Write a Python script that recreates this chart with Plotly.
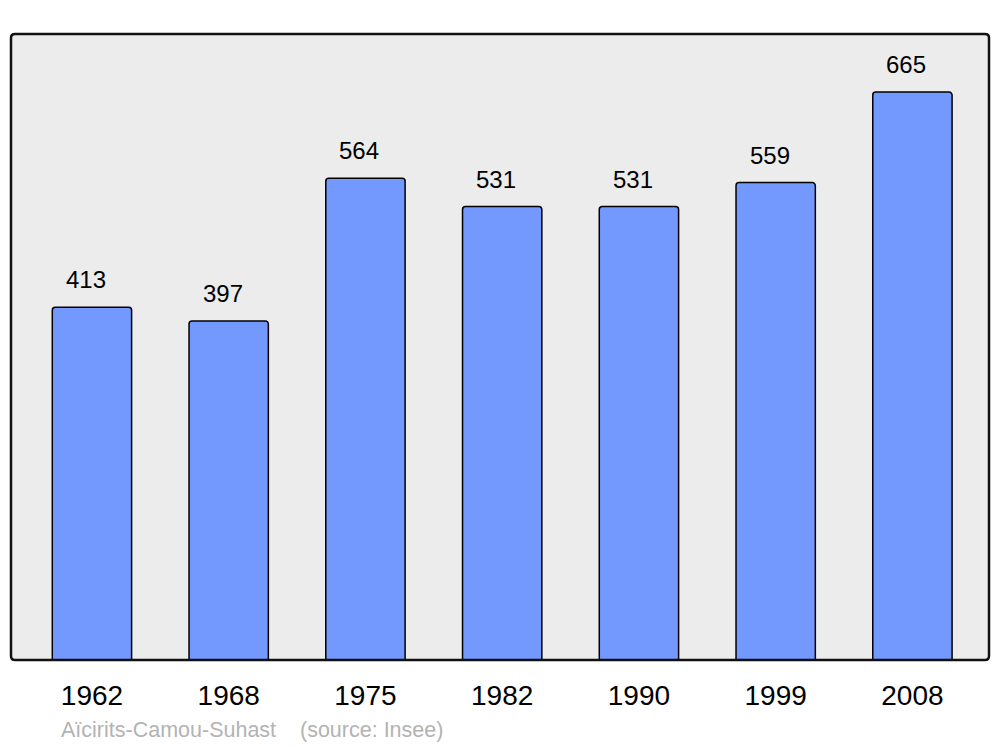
import plotly.graph_objects as go

years = ["1962", "1968", "1975", "1982", "1990", "1999", "2008"]
population = [413, 397, 564, 531, 531, 559, 665]
commune = "Aïcirits-Camou-Suhast"
source = "(source: Insee)"

W, H = 1000, 747
L, R, T, B = 11, 11, 34, 87
pw, ph = W - L - R, H - T - B

fig = go.Figure()
fig.add_trace(go.Bar(
    x=years, y=population, width=0.58,
    marker=dict(color="#7399ff", line=dict(color="#000000", width=1.5), cornerradius=3),
    hoverinfo="skip",
))

for i, v in enumerate(population):
    fig.add_annotation(x=i, y=v, xref="x", yref="y", text=str(v), showarrow=False,
                       yanchor="bottom", yshift=12, xshift=-6,
                       font=dict(family="Liberation Sans, Arial", size=24, color="#000000"))

ysrc = -(730 - (T + ph)) / ph
fig.add_annotation(xref="paper", yref="paper", x=(59 - L) / pw, y=ysrc,
                   xanchor="left", yanchor="middle", showarrow=False, text=commune,
                   font=dict(family="Liberation Sans, Arial", size=21.5, color="#b3b3b3"))
fig.add_annotation(xref="paper", yref="paper", x=(298 - L) / pw, y=ysrc,
                   xanchor="left", yanchor="middle", showarrow=False, text=source,
                   font=dict(family="Liberation Sans, Arial", size=21.5, color="#b3b3b3"))

# rounded plot border
rx, ry = 4 / pw, 4 / ph
path = (f"M {rx},0 L {1-rx},0 Q 1,0 1,{ry} L 1,{1-ry} Q 1,1 {1-rx},1 "
        f"L {rx},1 Q 0,1 0,{1-ry} L 0,{ry} Q 0,0 {rx},0 Z")
fig.add_shape(type="path", path=path, xref="paper", yref="paper",
              line=dict(color="#111111", width=2.5), layer="above")

fig.update_layout(
    width=W, height=H,
    margin=dict(l=L, r=R, t=T, b=B),
    paper_bgcolor="#ffffff", plot_bgcolor="#ececec",
    showlegend=False,
    xaxis=dict(type="category", range=[-0.592, 6.56], showgrid=False, zeroline=False,
               showline=False, ticks="", ticklabelstandoff=16,
               tickfont=dict(family="Liberation Sans, Arial", size=28, color="#000000"),
               fixedrange=True),
    yaxis=dict(range=[0, 733], showgrid=False, zeroline=False, showline=False,
               showticklabels=False, ticks="", fixedrange=True),
)

fig.write_html("out.html", config={"displayModeBar": False},
               post_script="document.body.style.margin='0';document.body.style.overflow='hidden';")
